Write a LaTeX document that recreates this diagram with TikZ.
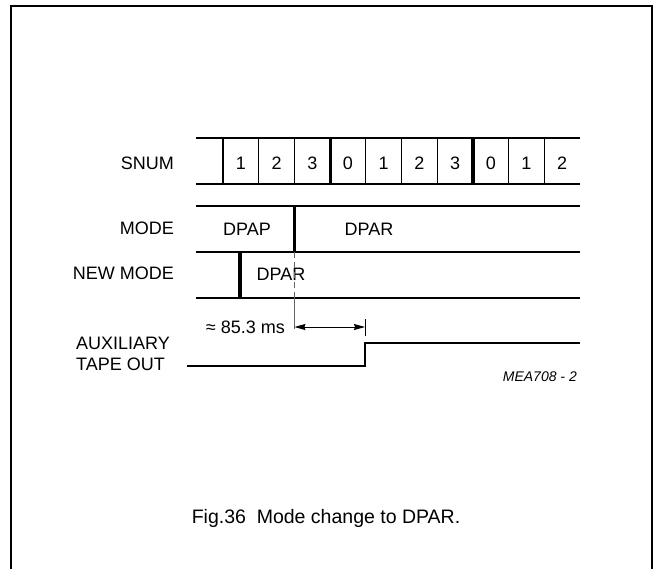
\documentclass[tikz,border=0pt]{standalone}
\usepackage{fontspec}
\setmainfont{Liberation Sans}
\usetikzlibrary{arrows.meta}
\tikzset{
  lbl/.style={font=\fontsize{18}{21}\selectfont, inner sep=0pt},
  sigline/.style={line width=1.2pt},
  thickbar/.style={line width=3.2pt},
  guide/.style={line width=0.9pt, black!60},
  dim/.style={line width=0.9pt, {Stealth[length=11pt,width=6pt,inset=1pt]}-{Stealth[length=11pt,width=6pt,inset=1pt]}},
  wave/.style={line width=2.2pt},
}
\begin{document}
\begin{tikzpicture}[x=1pt,y=-1pt]
\useasboundingbox (0,0) rectangle (655,568);
% frame
\draw[line width=1.6pt] (11,572) -- (11,6) -- (652,6) -- (652,572);

% SNUM row
\draw[sigline] (196,138) -- (580,138);
\draw[sigline] (196,184) -- (580,184);
\foreach \k in {0,1,2,4,5,6,8,9}{
  \draw[sigline] ({223+35.7*\k},138) -- ({223+35.7*\k},184);
}
\foreach \k in {3,7}{
  \draw[thickbar] ({223+35.7*\k},138) -- ({223+35.7*\k},184);
}
\foreach \d [count=\i from 0] in {1,2,3,0,1,2,3,0,1,2}{
  \node[lbl] (d\i) at ({223+35.7*(\i+0.5)},163.5) {\d};
}
\node[lbl, anchor=east] (snum) at (174,163.5) {SNUM};

% MODE rows
\draw[sigline] (196,206) -- (580,206);
\draw[sigline] (196,252) -- (580,252);
\draw[sigline] (196,298) -- (580,298);
\coordinate (sw) at (294.4,206);
\coordinate (swb) at (294.4,252);
\draw[thickbar] (sw) -- (swb);
\coordinate (nw) at (240,252);
\coordinate (nwb) at (240,298);
\draw[thickbar] (nw) -- (nwb);
\node[lbl, anchor=east] (mode) at (174,228.5) {MODE};
\node[lbl, anchor=east] (newmode) at (174,273.5) {NEW MODE};
\node[lbl] (dpap) at (247,229) {DPAP};
\node[lbl] (dpar1) at (369,229) {DPAR};
\node[lbl] (dpar2) at (281,274) {DPAR};

% timing guide
\coordinate (g1) at (294.4,298);
\coordinate (g2) at (294.4,329);
\draw[guide, dash pattern=on 6pt off 4pt] (swb) -- (g1);
\draw[guide] (g1) -- (g2);
\coordinate (a1) at (294.4,327);
\coordinate (a2) at (365,327);
\draw[dim] (a1) -- (a2);
\draw[line width=0.9pt] (365,319) -- (365,336);
\node[lbl, anchor=east] (ms) at (285,327) {≈ 85.3 ms};

% auxiliary tape out
\coordinate (w0) at (187,366);
\coordinate (w1) at (365,366);
\coordinate (w2) at (365,343);
\coordinate (w3) at (580,343);
\draw[wave] (w0) -- (w1) -- (w2) -- (w3);
\node[lbl, anchor=east, align=left] (aux) at (170,354) {AUXILIARY\\TAPE OUT};

\node[font=\fontsize{14}{16}\selectfont\itshape, anchor=east, inner sep=0pt] (mea) at (577,377) {MEA708 - 2};

\node[font=\fontsize{19.5}{22}\selectfont, inner sep=0pt] (cap) at (326,518) {Fig.36\ \ Mode change to DPAR.};
\end{tikzpicture}
\end{document}
